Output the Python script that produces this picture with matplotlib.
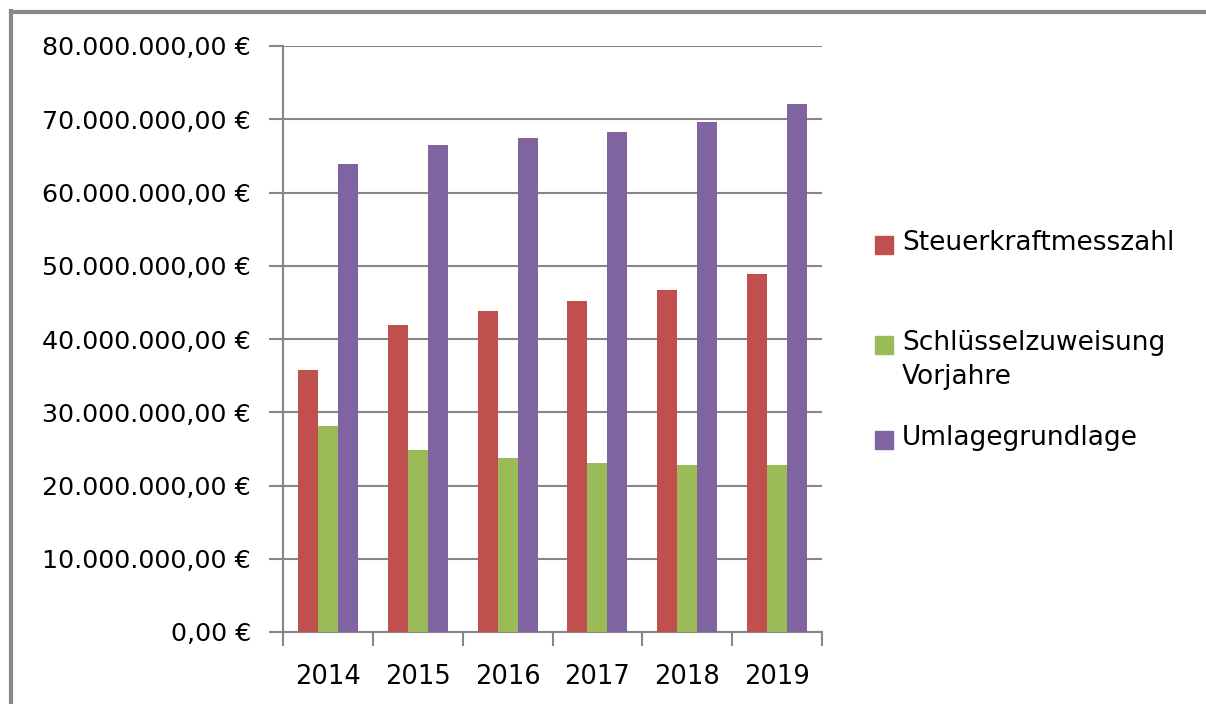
import matplotlib
matplotlib.use("Agg")
import matplotlib.pyplot as plt
import numpy as np
from matplotlib.patches import Rectangle
from matplotlib.lines import Line2D
from matplotlib.ticker import FuncFormatter, MultipleLocator

# ---- data ----
years = ["2014", "2015", "2016", "2017", "2018", "2019"]
series_names = ["Steuerkraftmesszahl", "Schlüsselzuweisung\nVorjahre", "Umlagegrundlage"]
steuerkraft = [35.8e6, 41.9e6, 43.8e6, 45.2e6, 46.7e6, 48.9e6]
schluessel = [28.1e6, 24.9e6, 23.8e6, 23.1e6, 22.8e6, 22.8e6]
umlage = [63.9e6, 66.5e6, 67.4e6, 68.3e6, 69.6e6, 72.1e6]
colors = ["#C0504D", "#9BBB59", "#8064A2"]
y_max = 80e6
y_step = 10e6

W, H = 1206, 704
fig = plt.figure(figsize=(W / 100, H / 100), dpi=100)
plt.rcParams['font.family'] = ['DejaVu Sans']

ax = fig.add_axes([283 / W, 72 / H, (822 - 283) / W, (632 - 46) / H])
grey = "#868686"

x = np.arange(len(years))
bw = 1 / 4.5
all_series = [steuerkraft, schluessel, umlage]
for i, (vals, c) in enumerate(zip(all_series, colors)):
    ax.bar(x + (i - 1) * bw, vals, width=bw, color=c, zorder=3, linewidth=0)

ax.set_xlim(-0.5, len(years) - 0.5)
ax.set_ylim(0, y_max)
ax.yaxis.set_major_locator(MultipleLocator(y_step))

def euro(v, pos):
    s = f"{v:,.2f}"
    s = s.replace(",", "X").replace(".", ",").replace("X", ".")
    return s + " €"

ax.yaxis.set_major_formatter(FuncFormatter(euro))
ax.grid(axis="y", color=grey, linewidth=1.5, zorder=0)
ax.set_axisbelow(True)

for side in ["top", "right"]:
    ax.spines[side].set_visible(False)
for side in ["left", "bottom"]:
    ax.spines[side].set_color(grey)
    ax.spines[side].set_linewidth(1.5)

ax.set_xticks(x)
ax.set_xticklabels(years)
ax.set_xticks(np.arange(-0.5, len(years), 1.0), minor=True)
ax.tick_params(axis="x", which="major", length=0, pad=23, labelsize=18.5, labelcolor="black")
ax.tick_params(axis="x", which="minor", length=10, width=1.5, color=grey, direction="out")
ax.tick_params(axis="y", length=10, width=1.5, color=grey, pad=13, labelsize=18.3, labelcolor="black")

# legend drawn manually
leg_text_y = [245, 345, 440]
for name, c, ty in zip(series_names, colors, leg_text_y):
    fig.patches.append(Rectangle((875 / W, 1 - (ty + 9) / H), 18 / W, 18 / H,
                                 transform=fig.transFigure, color=c, figure=fig))
    fig.text(902 / W, 1 - (ty - 15) / H, name, fontsize=19, va="top", ha="left",
             linespacing=1.38)

# chart area border (left and top)
fig.add_artist(Line2D([11 / W, 11 / W], [0, 1 - 11 / H], transform=fig.transFigure,
                      color="#888888", linewidth=3))
fig.add_artist(Line2D([11 / W, 1], [1 - 11.5 / H, 1 - 11.5 / H], transform=fig.transFigure,
                      color="#888888", linewidth=3))

fig.savefig("out.png", dpi=100, facecolor="white")
